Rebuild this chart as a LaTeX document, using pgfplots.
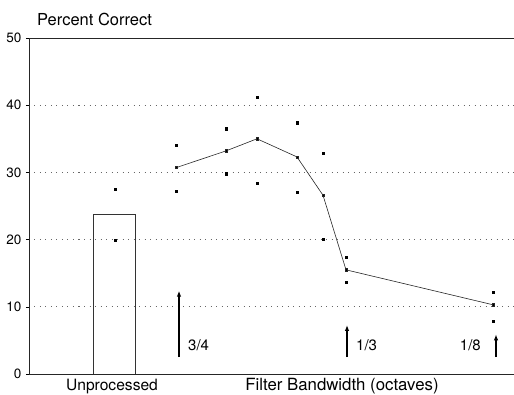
\documentclass[border=0pt]{standalone}
\usepackage{pgfplots}
\pgfplotsset{compat=1.18}
\usepackage{fontspec}
\setmainfont{TeX Gyre Heros}
\usetikzlibrary{arrows.meta}
\begin{document}
\begin{tikzpicture}[x=1pt,y=1pt]
\path[use as bounding box] (-29,-21) rectangle (485,374);
\begin{axis}[
  at={(0,0)}, anchor=south west,
  scale only axis, width=485pt, height=336pt,
  xmin=29, xmax=514, ymin=0, ymax=50,
  axis x line*=box, axis y line*=left,
  xtick=\empty,
  ytick={0,10,20,30,40,50},
  ymajorgrids,
  grid style={dash pattern=on 1pt off 4.5pt, black!60, line width=0.6pt},
  tick align=outside, major tick length=3pt,
  tick style={black, line width=0.4pt},
  axis line style={line width=0.6pt, black!85},
  yticklabel style={font=\fontsize{13.5}{15}\selectfont, xshift=-1pt},
  /pgf/number format/assume math mode=true,
  clip=false,
]
% Unprocessed bar
\addplot[black!80, line width=0.6pt] coordinates {(93,0) (93,23.8) (135,23.8) (135,0)};
% Unprocessed individual points
\addplot[only marks, mark=square*, mark size=1.1pt, black] coordinates {(115,27.5) (115,19.9)};
% Filtered: mean line
\addplot[black!85, line width=0.6pt, mark=square*, mark size=1.1pt, mark options={fill=black}] coordinates {
 (176,30.7) (226,33.2) (257,35.0) (297,32.3) (323,26.6) (346,15.5) (493,10.3)};
% Filtered: upper points
\addplot[only marks, mark=square*, mark size=1.1pt, black] coordinates {
 (176,34.1) (226,36.5) (257,41.2) (297,37.4) (323,32.9) (346,17.4) (493,12.2)};
% Filtered: lower points
\addplot[only marks, mark=square*, mark size=1.1pt, black] coordinates {
 (176,27.2) (226,29.8) (257,28.4) (297,27.1) (323,20.1) (346,13.7) (493,7.9)};
% arrows
\draw[-{Latex[length=6pt,width=4.5pt]}, line width=1.3pt] (axis cs:179,2.5) -- (axis cs:179,12.4);
\draw[-{Latex[length=6pt,width=4.5pt]}, line width=1.3pt] (axis cs:347,2.5) -- (axis cs:347,7.3);
\draw[-{Latex[length=6pt,width=4.5pt]}, line width=1.3pt] (axis cs:496,2.5) -- (axis cs:496,5.9);
\node[anchor=west, font=\fontsize{15}{17}\selectfont, inner sep=0pt] at (axis cs:188,4.3) {3/4};
\node[anchor=west, font=\fontsize{15}{17}\selectfont, inner sep=0pt] at (axis cs:356,4.3) {1/3};
\node[anchor=east, font=\fontsize{15}{17}\selectfont, inner sep=0pt] at (axis cs:481,4.3) {1/8};
% labels
\node[anchor=base west, font=\fontsize{16.5}{19}\selectfont, inner sep=0pt] at (axis cs:37,51.9) {Percent Correct};
\node[anchor=base, font=\fontsize{15.6}{18}\selectfont, inner sep=0pt] at (axis cs:112,-2.4) {Unprocessed};
\node[anchor=base, font=\fontsize{16.8}{19}\selectfont, inner sep=0pt] at (axis cs:342,-2.4) {Filter Bandwidth (octaves)};
\end{axis}
\end{tikzpicture}
\end{document}
